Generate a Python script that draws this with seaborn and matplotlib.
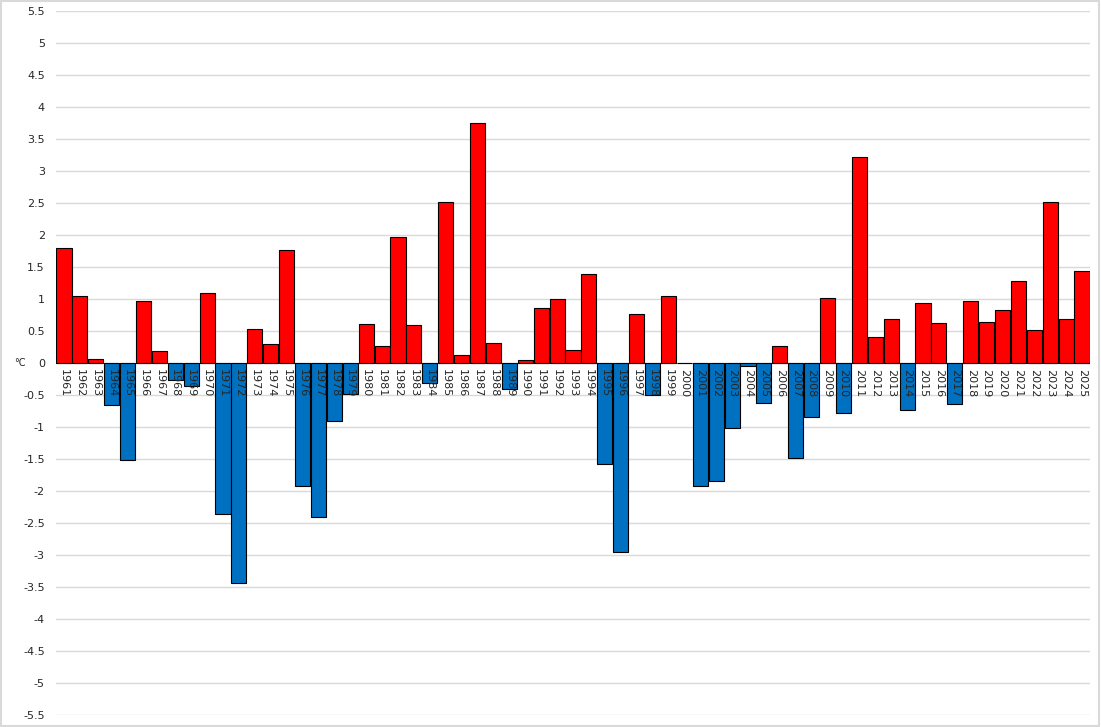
import matplotlib
matplotlib.use("Agg")
import matplotlib.pyplot as plt
import numpy as np
import pandas as pd
import seaborn as sns
from matplotlib.patches import Rectangle

sns.set_theme(style="white")
plt.rcParams['font.family'] = ['DejaVu Sans']

years = list(range(1961, 2026))
anomaly = [
    1.80, 1.05, 0.07, -0.66, -1.52, 0.97, 0.19, -0.27, -0.36, 1.09,
    -2.36, -3.44, 0.53, 0.30, 1.77, -1.92, -2.41, -0.91, -0.48, 0.61,
    0.27, 1.97, 0.60, -0.32, 2.51, 0.13, 3.75, 0.31, -0.40, 0.04,
    0.86, 1.00, 0.20, 1.39, -1.58, -2.96, 0.76, -0.50, 1.05, 0.00,
    -1.92, -1.84, -1.01, -0.05, -0.62, 0.27, -1.48, -0.85, 1.02, -0.78,
    3.22, 0.41, 0.68, -0.74, 0.94, 0.63, -0.64, 0.97, 0.64, 0.83,
    1.28, 0.52, 2.52, 0.69, 1.44,
]
yticks = np.arange(-5.5, 5.51, 0.5)

df = pd.DataFrame({"year": [str(y) for y in years], "anomaly": anomaly})
df["sign"] = np.where(df["anomaly"] >= 0, "pos", "neg")

fig = plt.figure(figsize=(11.01, 7.27), dpi=100)
ax = fig.add_axes([56 / 1101, 12 / 727, 1034 / 1101, 704 / 727])

# gridlines drawn by hand so tick labels can sit on top of the bars
for v in yticks:
    ax.axhline(v, color="#d9d9d9", linewidth=1, zorder=0)

sns.barplot(data=df, x="year", y="anomaly", hue="sign",
            palette={"pos": "#ff0000", "neg": "#0070c0"}, saturation=1,
            dodge=False, legend=False, width=0.95,
            edgecolor="black", linewidth=0.8, ax=ax, zorder=1)

ax.set_ylim(-5.5, 5.5)
ax.set_xlim(-0.5, len(years) - 0.5)
ax.set_yticks(yticks)
ax.set_yticklabels([f"{v:g}" for v in yticks], fontsize=8)
ax.grid(False)
ax.set_axisbelow(False)

for s in ax.spines.values():
    s.set_visible(False)
ax.spines["bottom"].set_position(("data", 0))

ax.tick_params(axis="both", length=0)
ax.tick_params(axis="x", pad=4)
ax.tick_params(axis="y", pad=8)
plt.setp(ax.get_xticklabels(), rotation=-90, fontsize=8, va="top", ha="center")

ax.set_xlabel("")
ax.set_ylabel("")
fig.text(20 / 1101, 1 - 363 / 727, "°C", fontsize=7, ha="center", va="center")

fig.add_artist(Rectangle((0.001, 0.001), 0.997, 0.997, transform=fig.transFigure,
                         fill=False, edgecolor="#d9d9d9", linewidth=1.5))

fig.savefig("out.png", dpi=100)
